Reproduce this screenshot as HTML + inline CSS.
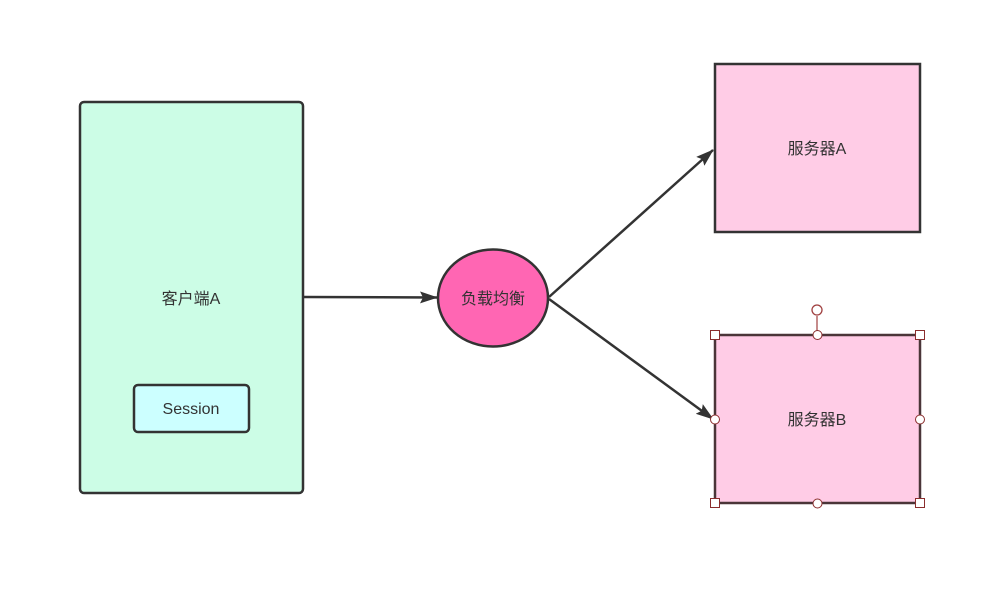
<!DOCTYPE html>
<html><head><meta charset="utf-8"><style>
html,body{margin:0;padding:0;background:#fff;}
svg text{font-family:"Liberation Sans","Noto Sans CJK SC",sans-serif;font-size:16px;fill:#333;}
</style></head><body>
<svg width="1000" height="600" viewBox="0 0 1000 600" xmlns="http://www.w3.org/2000/svg">
<defs>
<marker id="ar2" viewBox="0 0 18 12" markerWidth="18" markerHeight="12" refX="17" refY="6" orient="auto" markerUnits="userSpaceOnUse">
<path d="M0,0 L18,6 L0,12 L3,6 Z" fill="#333"/>
</marker>
</defs>
<rect x="80" y="102" width="223" height="391" rx="4" fill="#ccfde6" stroke="#333" stroke-width="2.5"/>
<text x="191" y="304" text-anchor="middle">客户端A</text>
<rect x="134" y="385" width="115" height="47" rx="4" fill="#ccffff" stroke="#333" stroke-width="2.5"/>
<text x="191" y="414" text-anchor="middle">Session</text>
<line x1="304" y1="297" x2="437" y2="297.5" stroke="#333" stroke-width="2.5" marker-end="url(#ar2)"/>
<ellipse cx="493" cy="298" rx="55" ry="48.5" fill="#ff66b3" stroke="#333" stroke-width="2.5"/>
<text x="493" y="304" text-anchor="middle">负载均衡</text>
<line x1="549" y1="297" x2="713" y2="150" stroke="#333" stroke-width="2.5" marker-end="url(#ar2)"/>
<line x1="549" y1="299" x2="713" y2="419" stroke="#333" stroke-width="2.5" marker-end="url(#ar2)"/>
<rect x="715" y="64" width="205" height="168" fill="#ffcce6" stroke="#333" stroke-width="2.5"/>
<text x="817" y="154" text-anchor="middle">服务器A</text>
<rect x="715" y="335" width="205" height="168" fill="#ffcce6" stroke="#4a3538" stroke-width="2.5"/>
<text x="817" y="425" text-anchor="middle">服务器B</text>
<line x1="817" y1="316" x2="817" y2="335" stroke="#a04040" stroke-width="1.2"/>
<circle cx="817" cy="310" r="5" fill="#fff" stroke="#a04040" stroke-width="1.3"/>
<g fill="#fff" stroke="#8b2d2d" stroke-width="1">
<rect x="710.5" y="330.5" width="9" height="9"/>
<rect x="915.5" y="330.5" width="9" height="9"/>
<rect x="710.5" y="498.5" width="9" height="9"/>
<rect x="915.5" y="498.5" width="9" height="9"/>
<circle cx="817.5" cy="335" r="4.5"/>
<circle cx="817.5" cy="503.5" r="4.5"/>
<circle cx="715" cy="419.5" r="4.5"/>
<circle cx="920" cy="419.5" r="4.5"/>
</g>
</svg>
</body></html>
